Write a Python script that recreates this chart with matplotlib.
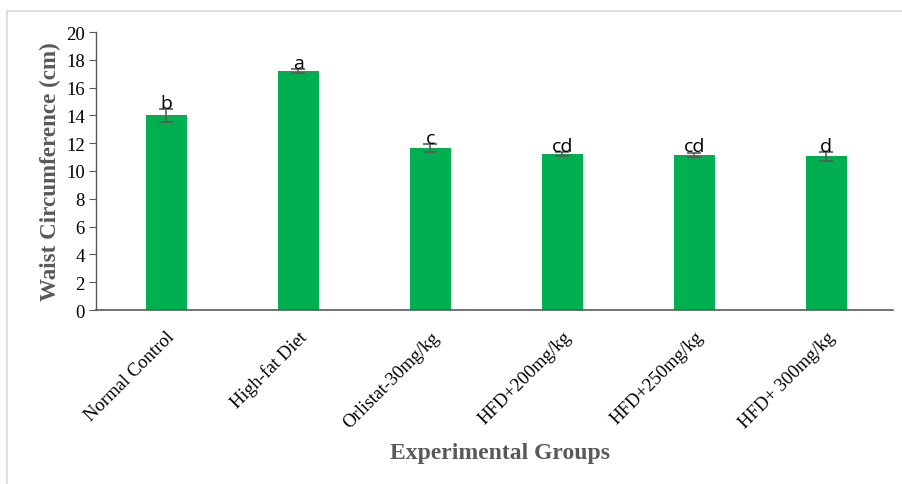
import matplotlib
matplotlib.use("Agg")
import matplotlib.pyplot as plt
from matplotlib.lines import Line2D

groups = ["Normal Control", "High-fat Diet", "Orlistat-30mg/kg",
          "HFD+200mg/kg", "HFD+250mg/kg", "HFD+ 300mg/kg"]
values = [14.0, 17.2, 11.65, 11.2, 11.17, 11.05]
errors = [0.45, 0.12, 0.3, 0.15, 0.15, 0.3]
letters = ["b", "a", "c", "cd", "cd", "d"]
yticks = [0, 2, 4, 6, 8, 10, 12, 14, 16, 18, 20]

W, H = 903, 485
fig = plt.figure(figsize=(W / 100, H / 100), dpi=100)
ax = fig.add_axes([96 / W, 1 - 311 / H, (893 - 96) / W, (311 - 33) / H])

x = list(range(len(groups)))
ax.bar(x, values, width=0.31, color="#00b050", zorder=2)
ax.errorbar(x, values, yerr=errors, fmt="none", ecolor="#595959",
            elinewidth=1.2, capsize=5, capthick=1.2, zorder=3)
for xi, v, e, t in zip(x, values, errors, letters):
    ax.text(xi, v + e + 0.1, t, ha="center", va="baseline", fontsize=14,
            family=["Open Sans", "DejaVu Sans"], color="black", zorder=4)

ax.set_xlim(-0.533, 5.505)
ax.set_ylim(0, 20)
ax.set_yticks(yticks)
ax.set_yticklabels([str(t) for t in yticks], family="Liberation Serif", fontsize=13.5)
ax.set_xticks(x)
ax.set_xticklabels(groups, family="Liberation Serif", fontsize=13.4,
                   rotation=45, ha="right", rotation_mode="anchor")
ax.tick_params(axis="x", length=0, pad=13)
ax.tick_params(axis="y", length=5, color="#595959", pad=3)
for s in ["top", "right"]:
    ax.spines[s].set_visible(False)
ax.spines["left"].set_color("#595959")
ax.spines["bottom"].set_color("#595959")
ax.spines["left"].set_linewidth(1.0)
ax.spines["bottom"].set_linewidth(1.2)

ax.set_ylabel("Waist Circumference (cm)", family="Liberation Serif",
              fontsize=16.6, fontweight="bold", color="#595959", labelpad=4)
fig.text(500 / W, 1 - 454 / H, "Experimental Groups", family="Liberation Serif",
         fontsize=17, fontweight="bold", color="#595959", ha="center", va="center")

fig.add_artist(Line2D([7 / W, 1], [1 - 12 / H, 1 - 12 / H], color="#d9d9d9", lw=1.2,
                      transform=fig.transFigure))
fig.add_artist(Line2D([7 / W, 7 / W], [0, 1 - 12 / H], color="#d9d9d9", lw=1.2,
                      transform=fig.transFigure))

fig.savefig("out.png", dpi=100)
